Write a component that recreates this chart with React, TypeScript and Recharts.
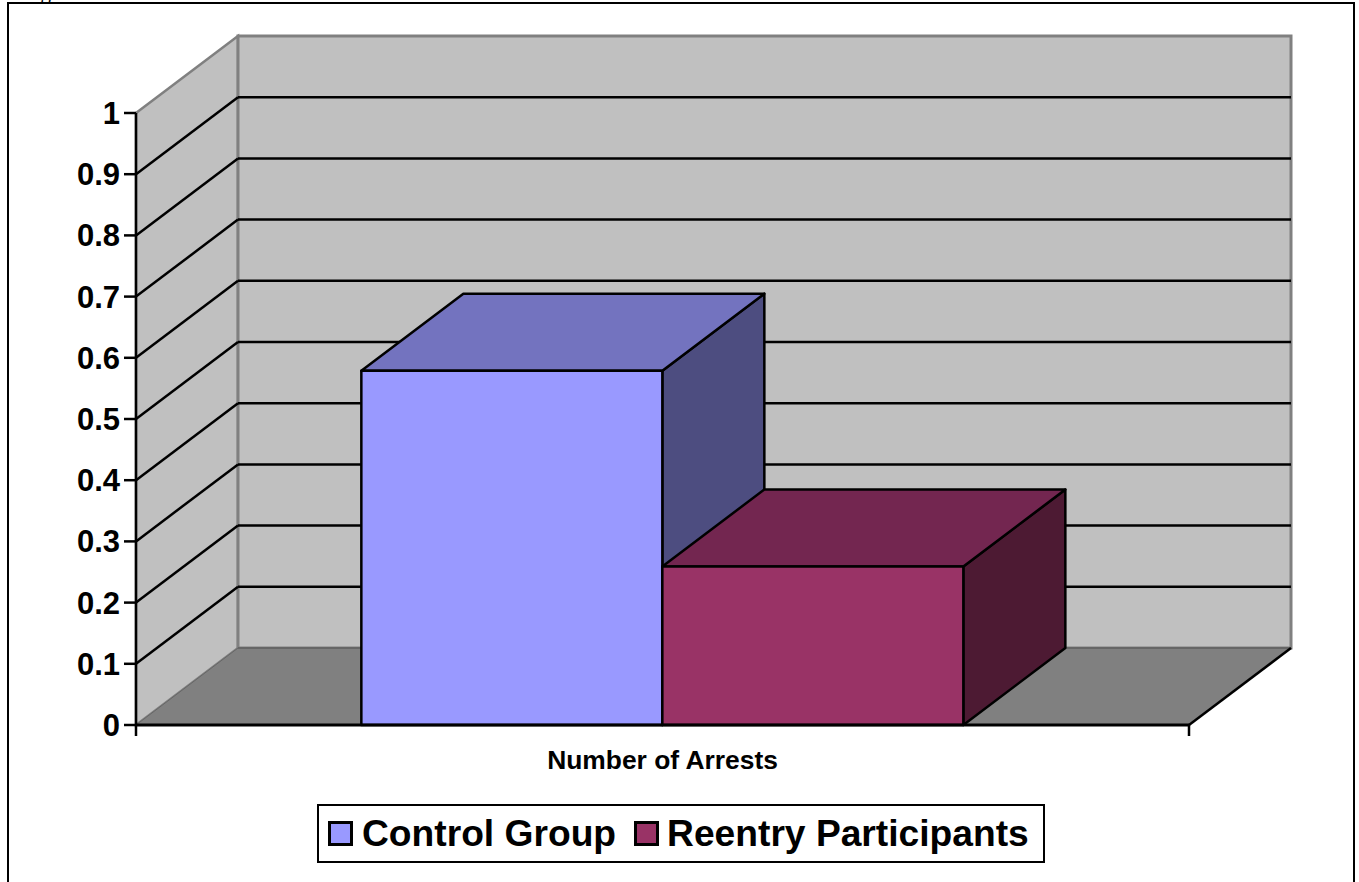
import React from 'react';
import { BarChart, Bar, XAxis, YAxis, ReferenceArea, Legend } from 'recharts';

const categories = ['Number of Arrests'];
const controlValues = [0.579];
const reentryValues = [0.259];
const yTicks = [0, 0.1, 0.2, 0.3, 0.4, 0.5, 0.6, 0.7, 0.8, 0.9, 1];

const chartData = categories.map((name, i) => ({
  name,
  control: controlValues[i],
  reentry: reentryValues[i],
}));

const DEPTH_X = 102;
const DEPTH_Y = 77;
const LINE = 2.5;
const FONT = '"Liberation Sans", Arial, sans-serif';

const pts = (list: number[][]) => list.map(p => p.join(',')).join(' ');

// back wall, side wall and floor of the 3D box
const Room = (props: any) => {
  const { x, y, width, height } = props;
  const bottom = y + height;
  const right = x + width;
  return (
    <g>
      <polygon
        points={pts([[x, y], [x + DEPTH_X, y - DEPTH_Y], [x + DEPTH_X, bottom - DEPTH_Y], [x, bottom]])}
        fill="#c0c0c0"
        stroke="#808080"
        strokeWidth={LINE}
      />
      <rect x={x + DEPTH_X} y={y - DEPTH_Y} width={width} height={height} fill="#c0c0c0" stroke="#808080" strokeWidth={3} />
      <polygon
        points={pts([[x, bottom], [x + DEPTH_X, bottom - DEPTH_Y], [right + DEPTH_X, bottom - DEPTH_Y], [right, bottom]])}
        fill="#808080"
      />
      <line x1={x} y1={bottom} x2={x + DEPTH_X} y2={bottom - DEPTH_Y} stroke="#666" strokeWidth={1} />
      <line x1={x + DEPTH_X} y1={bottom - DEPTH_Y} x2={right + DEPTH_X} y2={bottom - DEPTH_Y} stroke="#666" strokeWidth={2} />
      <line x1={right} y1={bottom} x2={right + DEPTH_X} y2={bottom - DEPTH_Y} stroke="#000" strokeWidth={LINE} />
      {yTicks.filter(t => t > 0 && t < 1).map(t => {
        const ty = bottom - t * height;
        return (
          <g key={t}>
            <line x1={x} y1={ty} x2={x + DEPTH_X} y2={ty - DEPTH_Y} stroke="#000" strokeWidth={LINE} />
            <line x1={x + DEPTH_X} y1={ty - DEPTH_Y} x2={right + DEPTH_X} y2={ty - DEPTH_Y} stroke="#000" strokeWidth={LINE} />
          </g>
        );
      })}
      <line x1={x} y1={bottom} x2={x} y2={bottom + 11} stroke="#000" strokeWidth={LINE} />
      <line x1={right} y1={bottom} x2={right} y2={bottom + 11} stroke="#000" strokeWidth={LINE} />
    </g>
  );
};

const box3d = (topColor: string, sideColor: string) => (props: any) => {
  const { x, y, width, height, fill } = props;
  const right = x + width;
  const bottom = y + height;
  return (
    <g stroke="#000" strokeWidth={LINE} strokeLinejoin="round">
      <polygon
        points={pts([[right, y], [right + DEPTH_X, y - DEPTH_Y], [right + DEPTH_X, bottom - DEPTH_Y], [right, bottom]])}
        fill={sideColor}
      />
      <polygon
        points={pts([[x, y], [x + DEPTH_X, y - DEPTH_Y], [right + DEPTH_X, y - DEPTH_Y], [right, y]])}
        fill={topColor}
      />
      <rect x={x} y={y} width={width} height={height} fill={fill} />
    </g>
  );
};

const LegendBox = ({ payload }: any) => (
  <div
    style={{
      position: 'absolute',
      left: 317,
      top: 804,
      width: 728,
      height: 59,
      boxSizing: 'border-box',
      border: '2px solid #000',
      background: '#fff',
      fontFamily: FONT,
      fontWeight: 700,
      fontSize: 37.2,
      color: '#000',
      display: 'flex',
      alignItems: 'center',
      whiteSpace: 'nowrap',
      paddingLeft: 9,
    }}
  >
    {(payload || []).map((item: any, i: number) => (
      <span key={item.value} style={{ display: 'flex', alignItems: 'center', marginLeft: i === 0 ? 0 : 18 }}>
        <span
          style={{
            display: 'inline-block',
            width: 25,
            height: 25,
            boxSizing: 'border-box',
            border: '3px solid #000',
            background: item.color,
            marginRight: i === 0 ? 9 : 8,
          }}
        />
        {item.value}
      </span>
    ))}
  </div>
);

export default function App() {
  return (
    <div style={{ position: 'fixed', left: 0, top: 0, width: 1359, height: 882, overflow: 'hidden', background: '#fff' }}>
      <div
        style={{
          position: 'absolute',
          left: 23,
          top: -20,
          fontFamily: '"Liberation Serif", serif',
          fontSize: 21,
          lineHeight: '24px',
          color: '#000',
        }}
      >
        Figure
      </div>
      <div
        style={{
          position: 'absolute',
          left: 7,
          top: 2,
          width: 1348,
          height: 900,
          boxSizing: 'border-box',
          border: '2px solid #000',
        }}
      />
      <BarChart
        width={1359}
        height={882}
        data={chartData}
        margin={{ top: 113, right: 170, bottom: 117, left: 36 }}
        barCategoryGap="21.4%"
        barGap={0}
        style={{ position: 'absolute', left: 0, top: 0 }}
      >
        <ReferenceArea y1={0} y2={1} shape={Room} ifOverflow="visible" />
        <XAxis
          dataKey="name"
          height={40}
          axisLine={{ stroke: '#000', strokeWidth: 3 }}
          tickLine={false}
          tick={{ fill: '#000', fontSize: 26.4, fontWeight: 700, fontFamily: FONT }}
          tickMargin={19}
        />
        <YAxis
          width={100}
          domain={[0, 1]}
          ticks={yTicks}
          interval={0}
          axisLine={{ stroke: '#000', strokeWidth: LINE }}
          tickLine={{ stroke: '#000', strokeWidth: LINE }}
          tickSize={12}
          tickMargin={4}
          tick={{ fill: '#000', fontSize: 31, fontWeight: 700, fontFamily: FONT }}
        />
        <Bar
          dataKey="control"
          name="Control Group"
          fill="#9999ff"
          shape={box3d('#7373bf', '#4d4d80')}
          isAnimationActive={false}
        />
        <Bar
          dataKey="reentry"
          name="Reentry Participants"
          fill="#993366"
          shape={box3d('#732650', '#4d1a33')}
          isAnimationActive={false}
        />
        <Legend content={<LegendBox />} wrapperStyle={{ left: 0, top: 0, width: 0, height: 0, bottom: 'auto' }} />
      </BarChart>
    </div>
  );
}
